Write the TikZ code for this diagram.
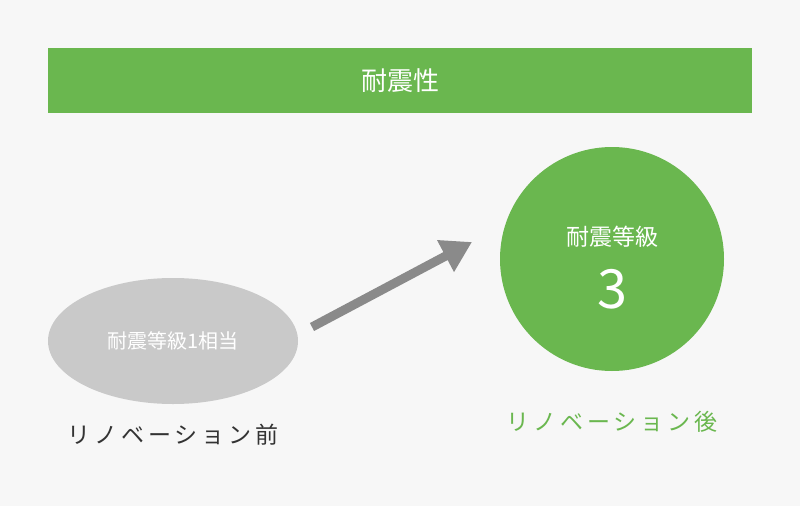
\documentclass[tikz,border=0pt]{standalone}
\usepackage{fontspec}
\setmainfont{Noto Sans CJK JP}
\usetikzlibrary{arrows.meta,shapes.geometric}
\definecolor{bg}{HTML}{F7F7F7}
\definecolor{leaf}{HTML}{6AB74F}
\definecolor{ash}{HTML}{C9C9C9}
\definecolor{arrowgray}{HTML}{8A8A8A}
\definecolor{ink}{HTML}{333333}
\tikzset{
  x=1pt, y=-1pt,
  caption/.style={font=\fontsize{23}{26}\selectfont, text=ink},
  >={Triangle[length=30pt,width=34pt]},
}
\begin{document}
\begin{tikzpicture}
  \fill[bg] (0,0) rectangle (800,506);
  \useasboundingbox (0,0) rectangle (800,506);
  %%
  \node[fill=leaf, minimum width=704pt, minimum height=65pt, inner sep=0pt,
    text=white, font=\fontsize{26}{30}\selectfont](Title) at (400,80.5){耐震性};
  %%
  \node[ellipse, fill=ash, minimum width=250pt, minimum height=126pt,
    text=white, font=\fontsize{20}{24}\selectfont](Before) at (173,341){耐震等級1相当};
  \node[caption](BeforeLbl) at (173,435){リ\,ノ\,ベ\,ー\,シ\,ョ\,ン\,前};
  %%
  \node[circle, fill=leaf, minimum size=224pt](After) at (612,259){};
  \node[text=white, font=\fontsize{23}{26}\selectfont](Grade) at (612,237){耐震等級};
  \node[text=white, font=\fontsize{54}{60}\selectfont](Num) at (612,289){3};
  \node[caption, text=leaf](AfterLbl) at (612,422){リ\,ノ\,ベ\,ー\,シ\,ョ\,ン\,後};
  %%
  \coordinate (From) at (312,327);
  \coordinate (To) at (472,242);
  \draw[->, arrowgray, line width=9pt](From) -- (To);
\end{tikzpicture}
\end{document}
